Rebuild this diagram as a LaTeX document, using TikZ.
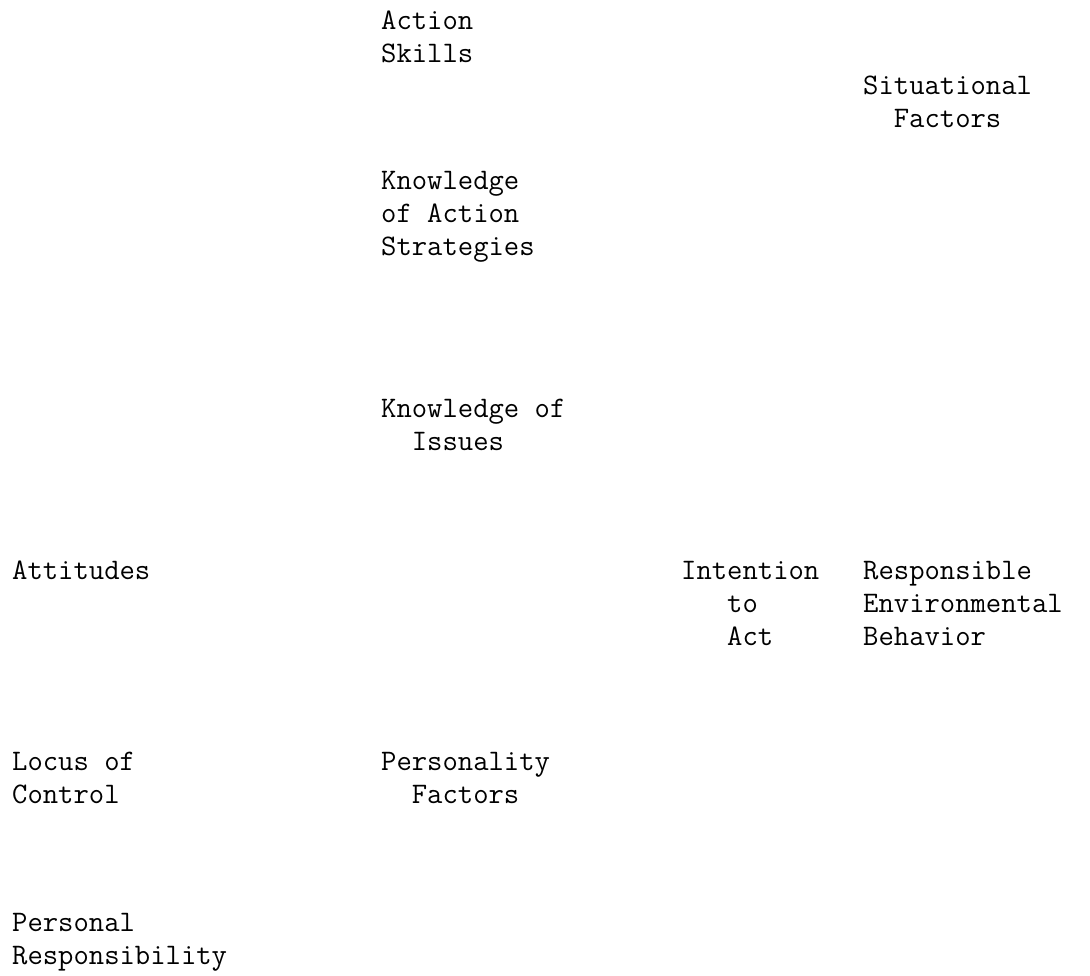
\documentclass[tikz,border=0pt]{standalone}
\usepackage{fontspec}
\newcommand\tstrut{\rule{0pt}{26pt}}
\newcommand\ind[1]{\hphantom{#1}}
\tikzset{
  lbl/.style={anchor=north west, inner sep=0pt, align=left,
    font=\fontsize{29.8}{33}\selectfont\ttfamily}
}
\begin{document}
\begin{tikzpicture}[x=1pt,y=-1pt]
\useasboundingbox[fill=white] (0,0) rectangle (1090,975);
\node[lbl] (skills) at (381,3) {\tstrut Action\\Skills};
\node[lbl] (strat) at (381,163) {\tstrut Knowledge\\of Action\\Strategies};
\node[lbl] (issues) at (381,391) {\tstrut Knowledge of\\\ind{xx}Issues};
\node[lbl] (situ) at (863,68) {\tstrut Situational\\\ind{xx}Factors};
\node[lbl] (att) at (12,553) {\tstrut Attitudes};
\node[lbl] (intent) at (681,553) {\tstrut Intention\\\ind{xxx}to\\\ind{xxx}Act};
\node[lbl] (reb) at (863,553) {\tstrut Responsible\\Environmental\\Behavior};
\node[lbl] (locus) at (12,744) {\tstrut Locus of\\Control};
\node[lbl] (pers) at (381,744) {\tstrut Personality\\\ind{xx}Factors};
\node[lbl] (resp) at (12,905) {\tstrut Personal\\Responsibility};
\end{tikzpicture}
\end{document}
